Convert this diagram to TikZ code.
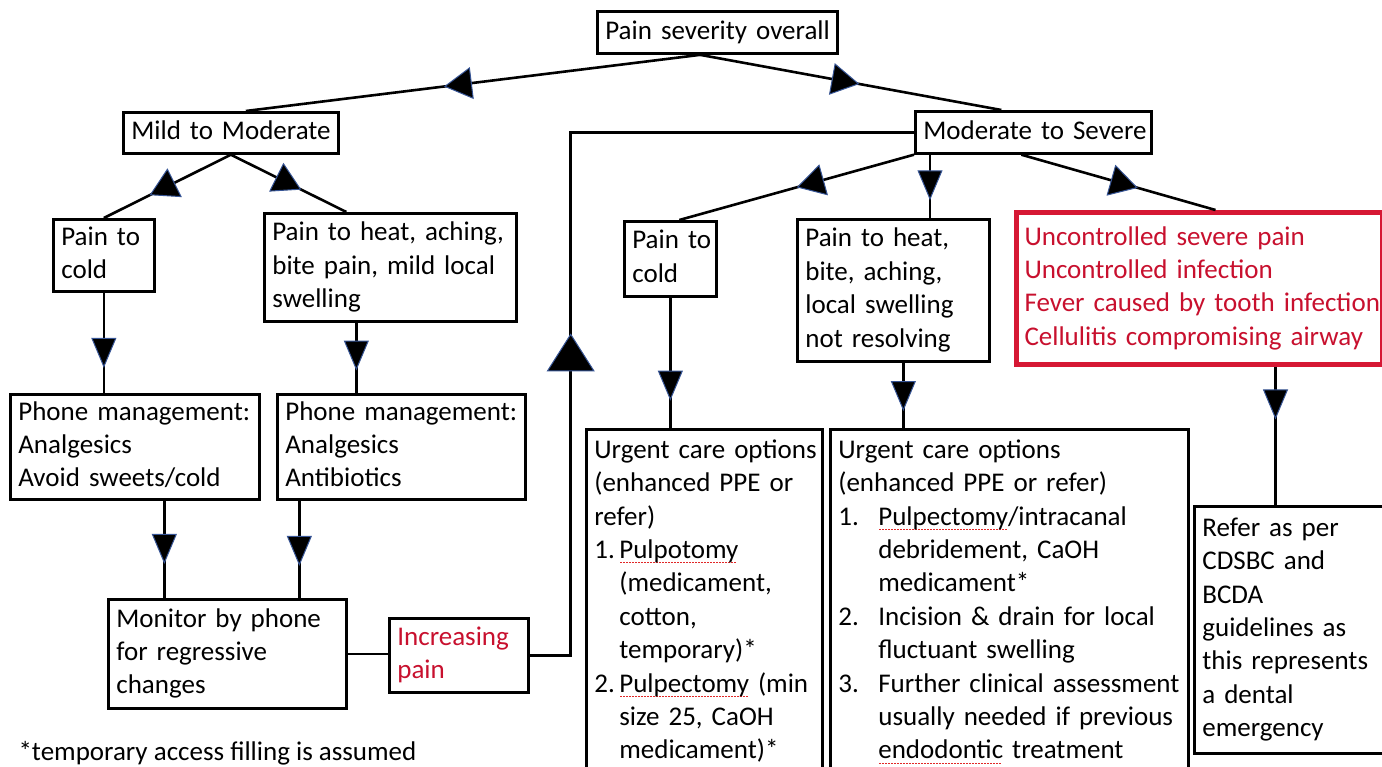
\documentclass[tikz,border=0pt]{standalone}
\usepackage{fontspec}
\setmainfont{Carlito}
\usetikzlibrary{arrows.meta,decorations.markings,calc}
\definecolor{alertred}{RGB}{200,16,46}
\definecolor{framered}{RGB}{214,24,52}
\definecolor{tipedge}{RGB}{55,85,150}
\definecolor{squigred}{RGB}{225,40,40}
\newsavebox\sqbox
\newcommand\squig[1]{\sbox\sqbox{#1}\rlap{\raisebox{-5pt}{\color{squigred}\makebox[\wd\sqbox][l]{\leaders\hbox to 3pt{\hss\rule{1.5pt}{1.3pt}\hss}\hfill}}}\usebox\sqbox}
\newcommand\numitem[2]{\makebox[#1][l]{#2}}
\newcommand\rows[1]{\begin{tabular}{@{}l@{}}#1\end{tabular}}
\tikzset{
  stip/.tip={Triangle[length=28pt,width=32pt,fill=black,color=tipedge,line width=1pt]},
  vtip/.tip={Triangle[length=30pt,width=25pt,fill=black,color=tipedge,line width=1pt]},
  btip/.tip={Triangle[length=38pt,width=48pt,fill=black,color=tipedge,line width=1pt]}
}

\begin{document}
\begin{tikzpicture}[x=1pt,y=-1pt,
  font=\fontsize{27}{33.4}\selectfont,
  box/.style 2 args={draw,line width=2.7pt,anchor=north west,align=left,
    inner xsep=8pt,inner ysep=0pt,text width=#1,minimum height=#2},
  conn/.style={line width=2.6pt},
  mid/.style 2 args={postaction={decorate,decoration={markings,
    mark=at position #1 with {\arrow{#2}}}}}]
\useasboundingbox[fill=white] (0,0) rectangle (1382,767);

% severity
\node[box={224pt}{42pt}] (top) at (596,10) {\rows{Pain severity overall}};
\node[box={199pt}{41pt}] (mild) at (122,111) {\rows{Mild to Moderate}};
\node[box={220pt}{42pt}] (sev) at (914,110) {\rows{Moderate to Severe}};

% mild to moderate branch
\node[box={85pt}{72pt}] (coldL) at (52,218) {\rows{Pain to\\cold}};
\node[box={236pt}{108pt}] (heatL) at (263,212) {\rows{Pain to heat, aching,\\bite pain, mild local\\swelling}};
\node[box={233pt}{105pt}] (ph1) at (9,393) {\rows{Phone management:\\Analgesics\\Avoid sweets/cold}};
\node[box={232pt}{105pt}] (ph2) at (276,393) {\rows{Phone management:\\Analgesics\\Antibiotics}};
\node[box={222pt}{109pt}] (mon) at (107,598) {\rows{Monitor by phone\\for regressive\\changes}};
\node[box={123pt}{74pt},text=alertred] (inc) at (388,617) {\rows{Increasing\\pain}};

% moderate to severe branch
\node[box={76pt}{75pt}] (coldR) at (623,220) {\rows{Pain to\\cold}};
\node[box={176pt}{142pt}] (heatR) at (796,218) {\rows{Pain to heat,\\bite, aching,\\local swelling\\not resolving}};
\node[box={350pt}{152pt},draw=framered,line width=5pt,text=alertred] (red) at (1014,210)
  {\rows{Uncontrolled severe pain\\Uncontrolled infection\\Fever caused by tooth infection\\Cellulitis compromising airway}};
\node[box={220pt}{345pt}] (urg1) at (585,428) {\rows{Urgent care options\\(enhanced PPE or\\refer)\\
  \numitem{25pt}{1.}\squig{Pulpotomy}\\\hspace*{25pt}(medicament,\\\hspace*{25pt}cotton,\\\hspace*{25pt}temporary)*\\
  \numitem{25pt}{2.}\squig{Pulpectomy} (min\\\hspace*{25pt}size 25, CaOH\\\hspace*{25pt}medicament)*}};
\node[box={342pt}{345pt}] (urg2) at (829,428) {\rows{Urgent care options\\(enhanced PPE or refer)\\
  \numitem{40pt}{1.}\squig{Pulpectomy}/intracanal\\\hspace*{40pt}debridement, CaOH\\\hspace*{40pt}medicament*\\
  \numitem{40pt}{2.}Incision \& drain for local\\\hspace*{40pt}fluctuant swelling\\
  \numitem{40pt}{3.}Further clinical assessment\\\hspace*{40pt}usually needed if previous\\\hspace*{40pt}\squig{endodontic} treatment}};
\node[box={199pt}{247pt}] (refer) at (1193,505) {\rows{Refer as per\\CDSBC and\\BCDA\\guidelines as\\this represents\\a dental\\emergency}};

\node[anchor=base west] (note) at (15,760) {*temporary access filling is assumed};

% connectors
\draw[conn,mid={0.565}{stip}] ([xshift=-16]top.south) -- ([xshift=15]mild.north);
\draw[conn,mid={0.53}{stip}] ([xshift=-18]top.south) -- ([xshift=-32]sev.north);
\draw[conn,mid={0.64}{stip}] (mild.south) -- (coldL.north);
\draw[conn,mid={0.61}{stip}] (mild.south) -- ([xshift=-44]heatL.north);
\draw[conn,mid={0.75}{vtip}] (coldL.south) -- (coldL.south |- ph1.north);
\draw[conn,mid={0.68}{vtip}] ($(heatL.south)+(-34,0)$) coordinate (hl) -- (hl |- ph2.north);
\draw[conn,mid={0.65}{vtip}] ($(ph1.south)+(29.5,0)$) coordinate (pa) -- (pa |- mon.north);
\draw[conn,mid={0.67}{vtip}] ($(ph2.south)+(-102,0)$) coordinate (pb) -- (pb |- mon.north);
\draw[conn] (mon.east) -- (mon.east -| inc.west);
\draw[conn,mid={0.40}{btip}] (inc.east) -- ++(41,0) coordinate (bend) |- (sev.west);
\draw[conn,mid={0.5}{stip}] (sev.south west) -- ([xshift=9]coldR.north);
\draw[conn,mid={0.72}{vtip}] ($(sev.south west)+(16,0)$) coordinate (sv) -- (sv |- heatR.north);
\draw[conn,mid={0.6}{stip}] ([xshift=-12]sev.south) -- ([xshift=16]red.north);
\draw[conn,mid={0.79}{vtip}] (coldR.south) -- (coldR.south |- urg1.north);
\draw[conn,mid={0.74}{vtip}] ($(heatR.south)+(10,0)$) coordinate (hr) -- (hr |- urg2.north);
\draw[conn,mid={0.38}{vtip}] ($(red.south)+(76,0)$) coordinate (rd) -- (rd |- refer.north);
\end{tikzpicture}
\end{document}
